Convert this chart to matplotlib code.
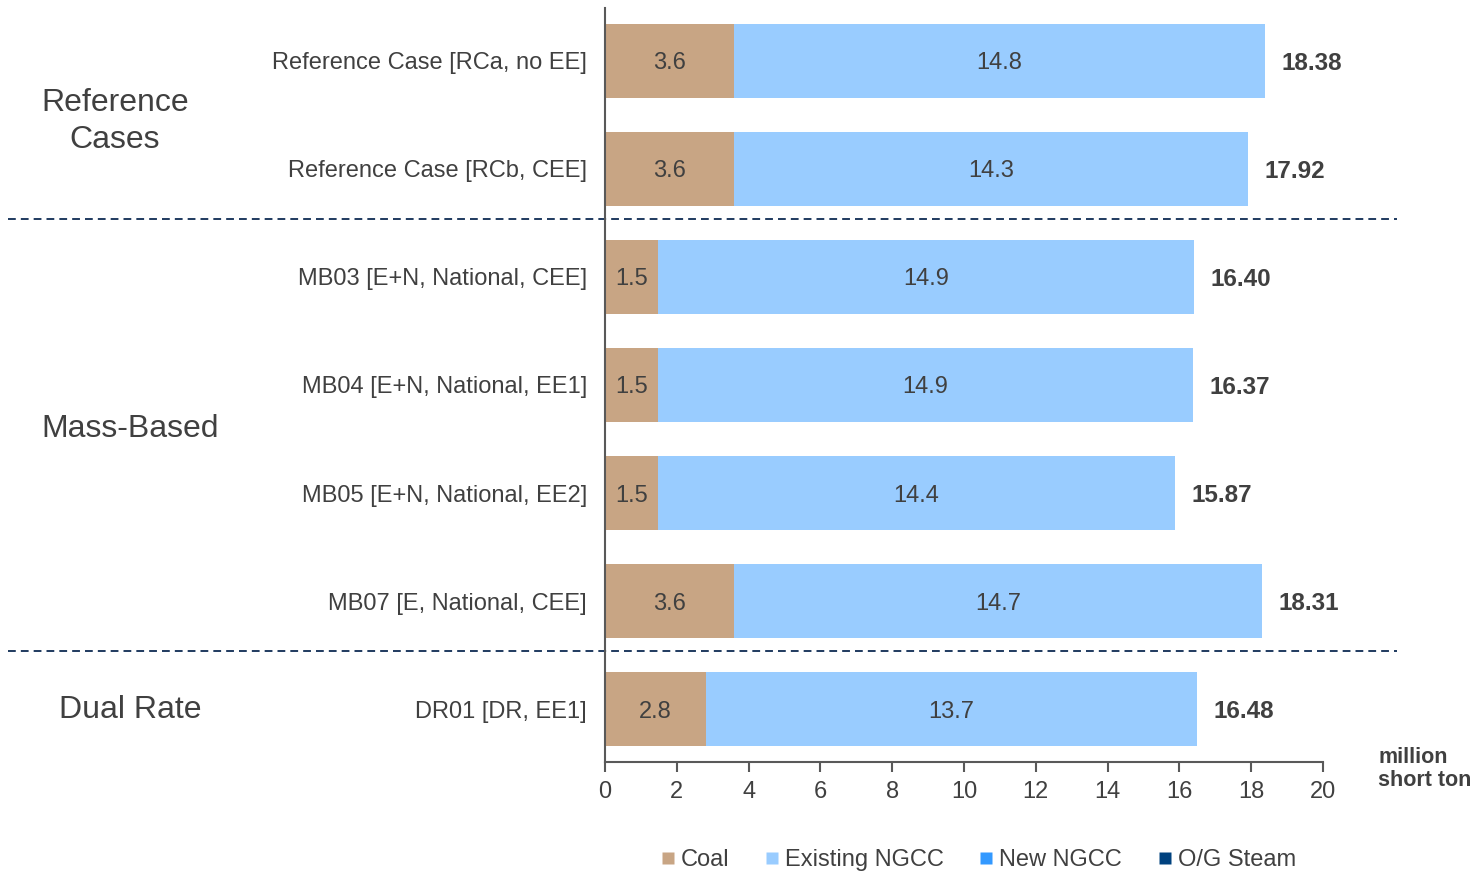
import matplotlib
matplotlib.use("Agg")
import matplotlib.pyplot as plt
from matplotlib.lines import Line2D
from matplotlib.transforms import blended_transform_factory
import numpy as np

plt.rcParams['font.family'] = ['Liberation Sans', 'DejaVu Sans']

# Scenario data (million short tons)
scenarios = [
    "Reference Case [RCa, no EE]",
    "Reference Case [RCb, CEE]",
    "MB03 [E+N, National, CEE]",
    "MB04 [E+N, National, EE1]",
    "MB05 [E+N, National, EE2]",
    "MB07 [E, National, CEE]",
    "DR01 [DR, EE1]",
]
coal = [3.60, 3.60, 1.48, 1.48, 1.48, 3.60, 2.80]
existing_ngcc = [14.78, 14.32, 14.92, 14.89, 14.39, 14.71, 13.68]
new_ngcc = [0.0, 0.0, 0.0, 0.0, 0.0, 0.0, 0.0]
og_steam = [0.0, 0.0, 0.0, 0.0, 0.0, 0.0, 0.0]

series_names = ["Coal", "Existing NGCC", "New NGCC", "O/G Steam"]
series_colors = ["#C8A584", "#99CCFF", "#3399FF", "#00427F"]

x_ticks = [0, 2, 4, 6, 8, 10, 12, 14, 16, 18, 20]

groups = [("Reference\nCases", 0.56, 115 / 1475), ("Mass-Based", 3.41, 130 / 1475),
          ("Dual Rate", 6.01, 130 / 1475)]
separators = [1.46, 5.46]

TEXT = "#404040"
AXIS = "#595959"

fig = plt.figure(figsize=(14.75, 8.73), dpi=100)
ax = fig.add_axes([605 / 1475, 1 - 762 / 873, (1323 - 605) / 1475, (762 - 8) / 873])

y = np.arange(len(scenarios))
h = 0.685
left = np.zeros(len(scenarios))
for vals, name, col in zip([coal, existing_ngcc, new_ngcc, og_steam], series_names, series_colors):
    vals = np.array(vals)
    ax.barh(y, vals, left=left, height=h, color=col, edgecolor='none', label=name)
    left = left + vals

totals = left

# Segment and total labels
for i in range(len(scenarios)):
    ax.text(coal[i] / 2, y[i], f"{coal[i]:.1f}", ha='center', va='center_baseline', fontsize=17,
            color=TEXT)
    ax.text(coal[i] + existing_ngcc[i] / 2, y[i], f"{existing_ngcc[i]:.1f}", ha='center',
            va='center_baseline', fontsize=17, color=TEXT)
    ax.text(totals[i] + 0.46, y[i], f"{totals[i]:.2f}", ha='left', va='center_baseline', fontsize=17.5,
            fontweight='bold', color=TEXT)

ax.set_xlim(0, 20)
ax.set_ylim(6.49, -0.49)
ax.set_xticks(x_ticks)
ax.set_xticklabels([str(t) for t in x_ticks], fontsize=17, color=TEXT)
ax.set_yticks(y)
ax.set_yticklabels(scenarios, fontsize=17, color=TEXT)
for lab in ax.get_yticklabels():
    lab.set_verticalalignment('center_baseline')
ax.tick_params(axis='y', length=0, pad=13)
ax.tick_params(axis='x', direction='out', length=7, width=1.5, color=AXIS, pad=7)
for s in ['top', 'right']:
    ax.spines[s].set_visible(False)
for s in ['left', 'bottom']:
    ax.spines[s].set_color(AXIS)
    ax.spines[s].set_linewidth(1.5)

# Group labels
tr = blended_transform_factory(fig.transFigure, ax.transData)
for label, yy, xf in groups:
    ax.text(xf, yy, label, transform=tr, ha='center', va='center', fontsize=23, color=TEXT,
            linespacing=1.3)

# Dashed separators spanning the full width
for sy in separators:
    ax.add_line(Line2D([8 / 1475, 1397 / 1475], [sy, sy], transform=tr, color="#1F3A5F",
                       linestyle=(0, (4, 2.6)), linewidth=1.4, clip_on=False))

# Units label
fig.text(1378 / 1475, 1 - 769 / 873, "million\nshort ton", ha='left', va='center', fontsize=15.5,
         fontweight='bold', color=TEXT, linespacing=1.1)

# Legend
handles = [Line2D([0], [0], marker='s', linestyle='none', markersize=9, markerfacecolor=c,
                  markeredgecolor='none') for c in series_colors]
fig.legend(handles, series_names, loc='center', bbox_to_anchor=(976 / 1475, 1 - 860 / 873), ncol=4,
           frameon=False, fontsize=17, handletextpad=0.05, columnspacing=1.3, labelcolor=TEXT,
           handlelength=1.0)

fig.savefig("out.png", dpi=100)
